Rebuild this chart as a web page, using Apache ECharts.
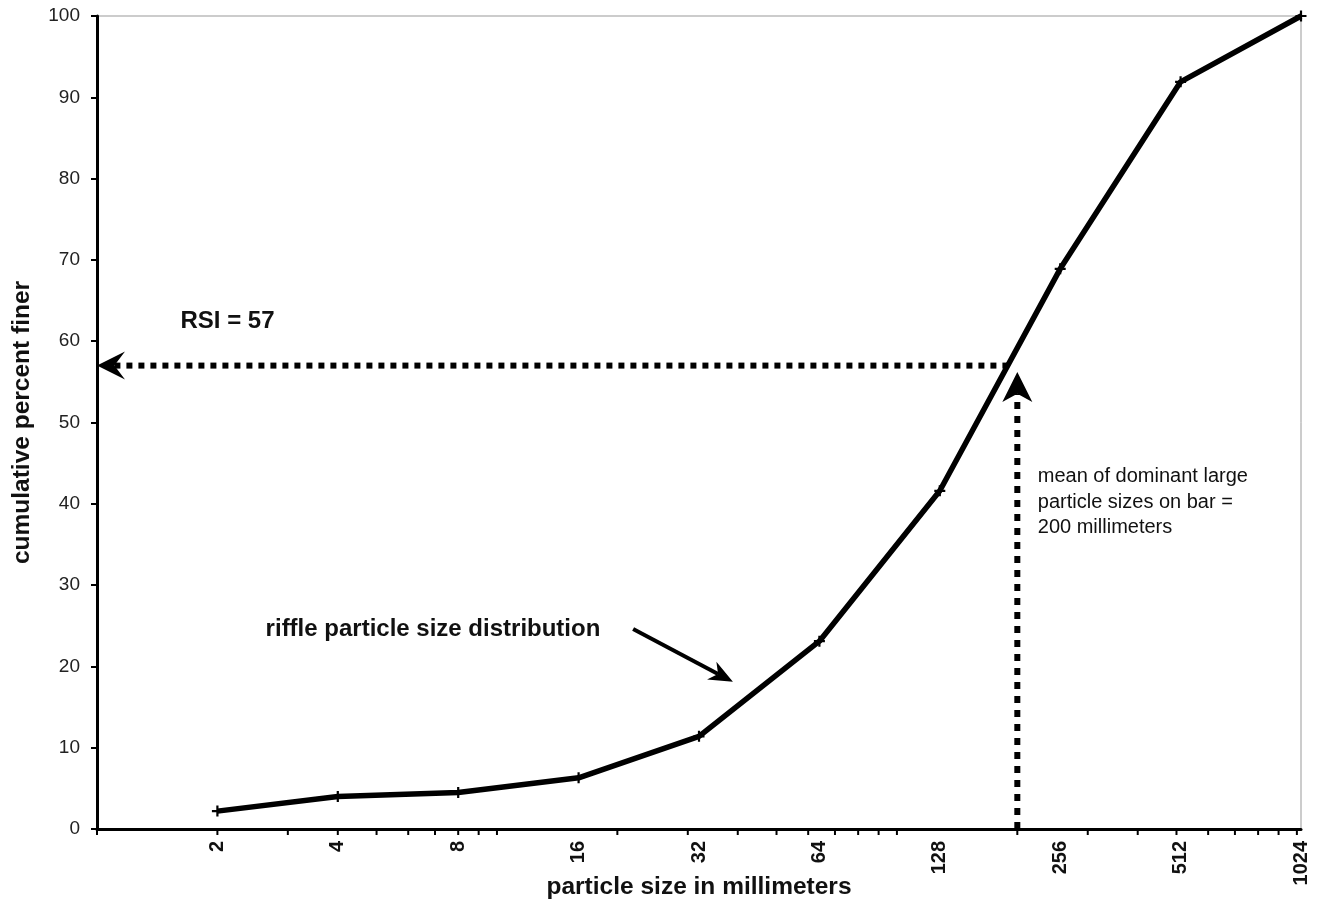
<!DOCTYPE html>
<html>
<head>
<meta charset="utf-8">
<script src="https://cdn.jsdelivr.net/npm/echarts@6/dist/echarts.min.js"></script>
<style>
html,body{margin:0;padding:0;background:#fff;}
#chart{width:1317px;height:907px;}
</style>
</head>
<body>
<div id="chart"></div>
<script>
// ---- data ----
const particleSizes = [2, 4, 8, 16, 32, 64, 128, 256, 512, 1024];
const cumulativePercent = [2.2, 4.0, 4.5, 6.3, 11.4, 23.1, 41.6, 68.9, 91.9, 100];
const xTickValues = [1,2,3,4,5,6,7,8,9,10,20,30,40,50,60,70,80,90,100,200,300,400,500,600,700,800,900,1000];
const xLabelValues = [2, 4, 8, 16, 32, 64, 128, 256, 512, 1024];
const rsiArrow = [[190, 57, 1, 57]];
const meanArrow = [[200, 0, 200, 56.2]];
const pointerArrow = [[21.9, 24.6, 38.9, 18.1]];
const annotationPoints = [[1.617, 62.4], [2.64, 24.5], [225, 44.9]];
const annotationTexts = ['RSI = 57', 'riffle particle size distribution', 'mean of dominant large\nparticle sizes on bar =\n200 millimeters'];

const FONT = 'Arial, "Liberation Sans", Helvetica, sans-serif';
const chart = echarts.init(document.getElementById('chart'));

function arrowSeries(data, cfg) {
  return {
    type: 'custom',
    data: data,
    encode: { x: [0, 2], y: [1, 3] },
    clip: false,
    silent: true,
    z: cfg.z || 3,
    renderItem: function (params, api) {
      const a = api.coord([api.value(0), api.value(1)]);
      const b = api.coord([api.value(2), api.value(3)]);
      const dx = b[0] - a[0], dy = b[1] - a[1];
      const len = Math.hypot(dx, dy);
      const ux = dx / len, uy = dy / len, px = -uy, py = ux;
      const L = cfg.headLen, W = cfg.headWidth / 2;
      const back = [b[0] - ux * L, b[1] - uy * L];
      const notch = [b[0] - ux * L * cfg.notch, b[1] - uy * L * cfg.notch];
      return {
        type: 'group',
        children: [
          { type: 'line', shape: { x1: a[0], y1: a[1], x2: notch[0], y2: notch[1] },
            style: { stroke: '#000', lineWidth: cfg.lineWidth, lineDash: cfg.dash || null, lineCap: 'butt' } },
          { type: 'polygon', shape: { points: [b, [back[0] + px * W, back[1] + py * W], notch, [back[0] - px * W, back[1] - py * W]] },
            style: { fill: '#000' } }
        ]
      };
    }
  };
}

const option = {
  backgroundColor: '#fff',
  animation: false,
  grid: { left: 97, right: 16, top: 16, bottom: 78, show: true, borderColor: '#999', borderWidth: 1,
          backgroundColor: 'transparent', containLabel: false, outerBoundsMode: 'none' },
  xAxis: {
    type: 'log', logBase: 2, min: 1, max: 1024, interval: 1, splitNumber: 10,
    axisLine: { lineStyle: { color: '#000', width: 3 } },
    axisTick: { show: false },
    splitLine: { show: false },
    axisLabel: {
      rotate: 90, margin: 12, color: '#111', fontFamily: FONT, fontWeight: 'bold', fontSize: 20,
      formatter: function (v) { return xLabelValues.indexOf(Math.round(v)) >= 0 ? String(Math.round(v)) : ''; }
    },
    name: 'particle size in millimeters', nameLocation: 'middle', nameGap: 46, nameMoveOverlap: false,
    nameTextStyle: { color: '#111', fontFamily: FONT, fontWeight: 'bold', fontSize: 24.5 }
  },
  yAxis: {
    type: 'value', min: 0, max: 100, interval: 10,
    axisLine: { show: true, lineStyle: { color: '#000', width: 3 } },
    axisTick: { show: true, length: 6, lineStyle: { color: '#000', width: 2 } },
    splitLine: { show: false },
    axisLabel: { margin: 17, color: '#222', fontFamily: FONT, fontSize: 19 },
    name: 'cumulative percent finer', nameLocation: 'middle', nameGap: 62, nameMoveOverlap: false,
    nameTextStyle: { color: '#111', fontFamily: FONT, fontWeight: 'bold', fontSize: 24.5 }
  },
  series: [
    {
      type: 'custom', silent: true, clip: false, z: 5,
      data: xTickValues.map(function (v) { return [v, 0]; }),
      encode: { x: 0, y: 1 },
      renderItem: function (params, api) {
        const p = api.coord([api.value(0), 0]);
        return { type: 'line', shape: { x1: p[0], y1: p[1], x2: p[0], y2: p[1] + 6 }, style: { stroke: '#000', lineWidth: 2 } };
      }
    },
    arrowSeries(rsiArrow, { lineWidth: 6, dash: [6, 6], headLen: 28, headWidth: 28, notch: 0.62 }),
    arrowSeries(meanArrow, { lineWidth: 6, dash: [7, 7], headLen: 30, headWidth: 30, notch: 0.72 }),
    arrowSeries(pointerArrow, { lineWidth: 4, headLen: 24, headWidth: 20, notch: 0.7 }),
    {
      type: 'line',
      data: particleSizes.map(function (s, i) { return [s, cumulativePercent[i]]; }),
      lineStyle: { color: '#000', width: 5.5 },
      itemStyle: { color: '#000' },
      symbol: 'path://M4,0H6V4H10V6H6V10H4V6H0V4H4Z',
      symbolSize: 11,
      clip: false,
      z: 6,
      silent: true
    },
    {
      type: 'custom', silent: true, clip: false, z: 7,
      data: annotationPoints,
      encode: { x: 0, y: 1 },
      renderItem: function (params, api) {
        const p = api.coord([api.value(0), api.value(1)]);
        const i = params.dataIndex;
        const isMean = i === 2;
        return {
          type: 'text', x: p[0], y: p[1],
          style: {
            text: annotationTexts[i],
            font: (isMean ? 'normal 20px ' : 'bold 24px ') + FONT,
            fill: '#111',
            align: 'left',
            verticalAlign: isMean ? 'top' : 'middle',
            lineHeight: isMean ? 25.5 : undefined
          }
        };
      }
    }
  ]
};
chart.setOption(option);
</script>
</body>
</html>
